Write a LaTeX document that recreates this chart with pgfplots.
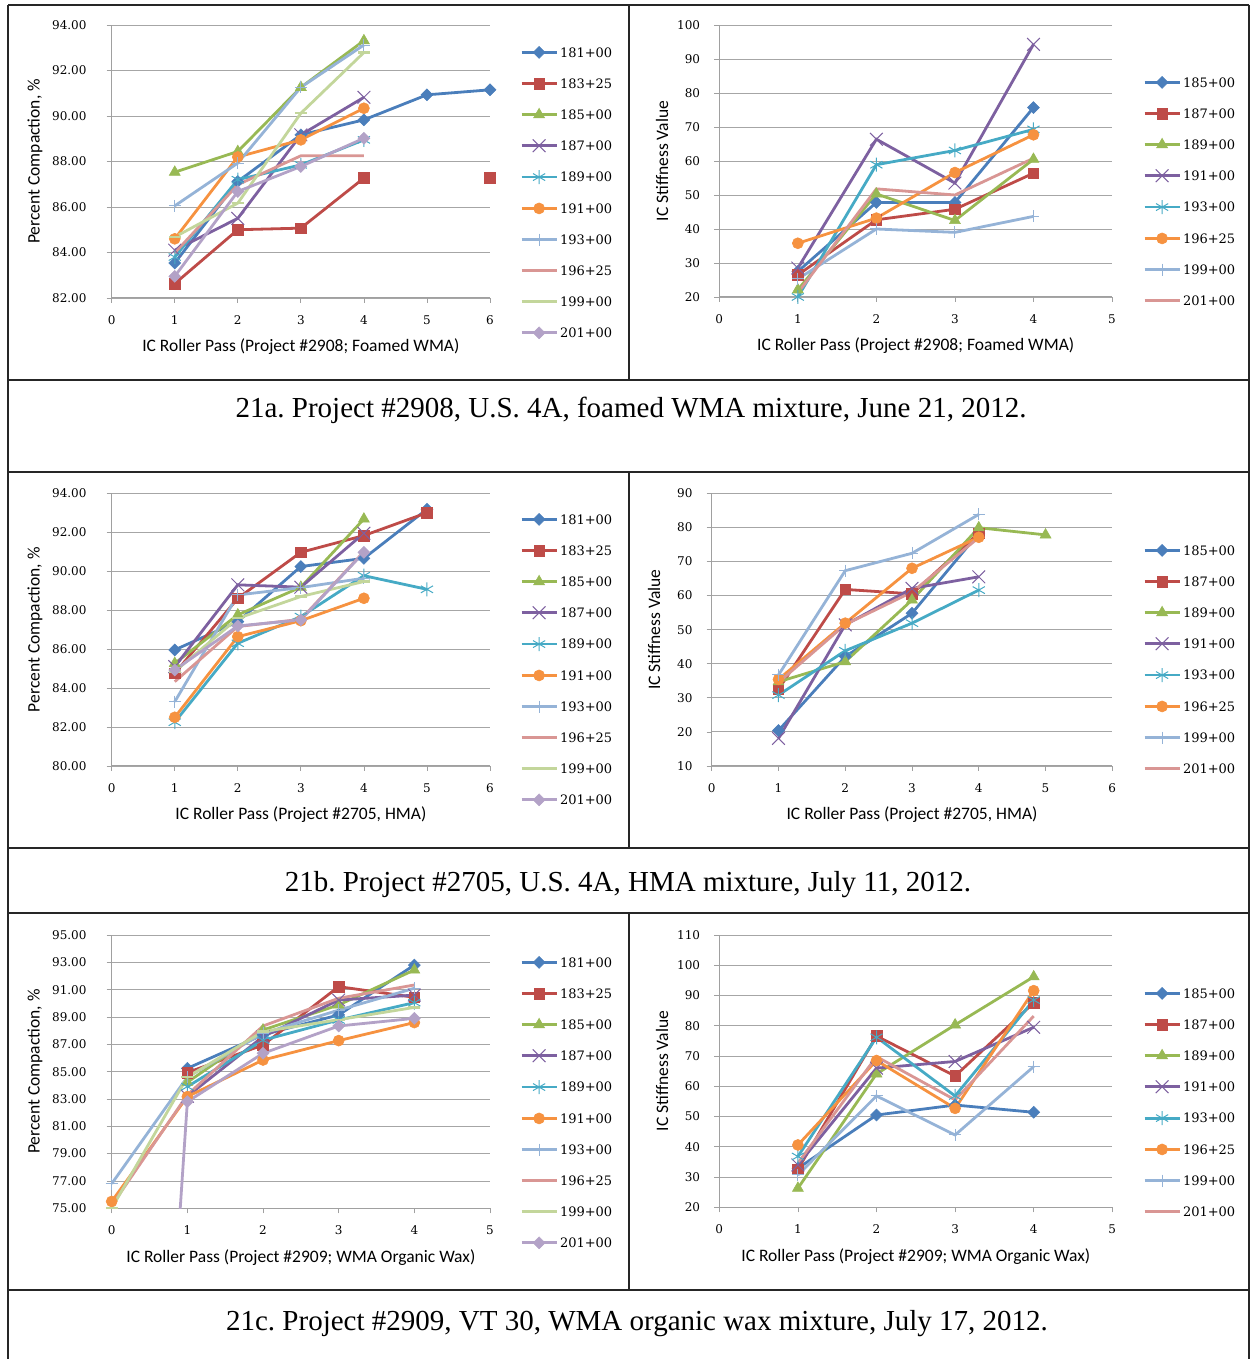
\documentclass[border=0pt]{standalone}
\usepackage{fontspec}
\setmainfont{Liberation Serif}
\newfontfamily\lblfont{Carlito}
\newfontfamily\tickfont{DejaVu Serif}
\usepackage{pgfplots}
\pgfplotsset{compat=1.18}
\frenchspacing

\definecolor{c1}{HTML}{4A7EBB}
\definecolor{c2}{HTML}{BE4B48}
\definecolor{c3}{HTML}{98B954}
\definecolor{c4}{HTML}{7D60A0}
\definecolor{c5}{HTML}{46AAC5}
\definecolor{c6}{HTML}{F69240}
\definecolor{c7}{HTML}{95B3D7}
\definecolor{c8}{HTML}{D99694}
\definecolor{c9}{HTML}{C3D69B}
\definecolor{c10}{HTML}{B3A2C7}
\definecolor{axgray}{HTML}{A0A0A0}
\definecolor{gridgray}{HTML}{A6A6A6}

\pgfplotsset{
  icbase/.style={
    scale only axis,
    axis lines=left,
    axis line style={-, draw=axgray, line width=1pt},
    tick style={draw=axgray, line width=0.8pt},
    tick align=outside,
    major tick length=5pt,
    ymajorgrids,
    grid style={draw=gridgray, line width=0.9pt},
    xmin=0,
    /pgf/number format/assume math mode=true,
    ticklabel style={font=\tickfont\fontsize{12}{12}\selectfont, text=black},
    xticklabel style={anchor=center, yshift=-17pt},
    yticklabel style={anchor=east, inner sep=0pt},
    label style={font=\lblfont\fontsize{17.5}{17.5}\selectfont},
    xlabel style={at={(axis description cs:0.5,0)}, anchor=center, yshift=-49pt},
    ylabel style={anchor=center},
    unbounded coords=jump,
    every axis plot/.append style={line width=2.8pt},
    legend cell align=left,
    legend image code/.code={\draw[mark repeat=2,mark phase=2,##1] plot coordinates {(0pt,0pt)(17.5pt,0pt)(35pt,0pt)};},
    legend style={draw=none, fill=none, at={(1,1)}, anchor=north west,
      inner sep=0pt, row sep=17.6pt,
      font=\tickfont\fontsize{13}{13}\selectfont,
      nodes={inner sep=2pt, text height=9.5pt, text depth=0pt}},
  },
  s1/.style={color=c1, mark=square*, mark size=4.2pt, mark options={solid, rotate=45, line width=0.6pt}},
  s2/.style={color=c2, mark=square*, mark size=5.3pt, mark options={solid, line width=0.6pt}},
  s3/.style={color=c3, mark=triangle*, mark size=6.3pt, mark options={solid, line width=0.6pt}},
  s4/.style={color=c4, mark=x, mark size=9pt, mark options={solid, line width=1pt}},
  s5/.style={color=c5, mark=asterisk, mark size=7pt, mark options={solid, line width=1pt}},
  s6/.style={color=c6, mark=*, mark size=5.5pt, mark options={solid, line width=0.6pt}},
  s7/.style={color=c7, mark=+, mark size=6pt, mark options={solid, line width=1pt}},
  s8/.style={color=c8, mark=none},
  s9/.style={color=c9, mark=-, mark size=6pt, mark options={solid, line width=2.2pt}},
  s10/.style={color=c10, mark=square*, mark size=4.2pt, mark options={solid, rotate=45, line width=0.6pt}},
}

\begin{document}
\begin{tikzpicture}[x=1pt,y=1pt]
\path[use as bounding box] (0,0) rectangle (1250,1359);

% ---------- table rules ----------
\begin{scope}[line width=2pt, draw=black!85]
  \draw (8,1354) -- (1248.5,1354);
  \draw (8,979) -- (1248.5,979);
  \draw (8,887) -- (1248.5,887);
  \draw (8,511) -- (1248.5,511);
  \draw (8,446) -- (1248.5,446);
  \draw (8,69) -- (1248.5,69);
  \draw (8,1354) -- (8,0);
  \draw (1248.5,1354) -- (1248.5,0);
  \draw (629,1354) -- (629,979);
  \draw (629,887) -- (629,511);
  \draw (629,446) -- (629,69);
\end{scope}

% ---------- captions ----------
\begin{scope}[font=\fontsize{29}{29}\selectfont]
  \node[anchor=base] at (631,941) {21a. Project \#2908, U.S. 4A, foamed WMA mixture, June 21, 2012.};
  \node[anchor=base] at (628,467) {21b. Project \#2705, U.S. 4A, HMA mixture, July 11, 2012.};
  \node[anchor=base] at (637,28) {21c. Project \#2909, VT 30, WMA organic wax mixture, July 17, 2012.};
\end{scope}

% ---------- 21a: compaction ----------
\begin{axis}[icbase, at={(111.7pt,1061pt)}, anchor=south west,
  width=378.3pt, height=273pt,
  xmax=6, ymin=82, ymax=94,
  xtick={0,1,...,6},
  ytick={82,84,...,94},
  yticklabels={82.00,84.00,86.00,88.00,90.00,92.00,94.00},
  yticklabel style={xshift=-20pt},
  ylabel={Percent Compaction, \%},
  ylabel style={at={(axis description cs:-0.2027,0.5)}},
  xlabel={IC Roller Pass (Project \#2908; Foamed WMA)},
  legend style={xshift=30pt, yshift=-20.5pt},
]
\addplot[s1] coordinates {(1,83.54)(2,87.12)(3,89.17)(4,89.83)(5,90.93)(6,91.15)};
\addplot[s2] coordinates {(1,82.63)(2,85.00)(3,85.07)(4,87.27)(5,nan)(6,87.27)};
\addplot[s3] coordinates {(1,87.53)(2,88.44)(3,91.26)(4,93.31)};
\addplot[s4] coordinates {(1,84.10)(2,85.50)(3,89.17)(4,90.82)};
\addplot[s5] coordinates {(1,83.80)(2,87.20)(3,87.85)(4,88.95)};
\addplot[s6] coordinates {(1,84.60)(2,88.20)(3,88.95)(4,90.34)};
\addplot[s7] coordinates {(1,86.05)(2,87.93)(3,91.26)(4,93.12)};
\addplot[s8] coordinates {(1,83.98)(2,86.98)(3,88.25)(4,88.25)};
\addplot[s9] coordinates {(1,84.68)(2,86.17)(3,90.12)(4,92.79)};
\addplot[s10] coordinates {(1,82.95)(2,86.68)(3,87.78)(4,89.02)};
\legend{181+00,183+25,185+00,187+00,189+00,191+00,193+00,196+25,199+00,201+00}
\end{axis}

% ---------- 21a: stiffness ----------
\begin{axis}[icbase, at={(719.3pt,1062pt)}, anchor=south west,
  width=392.7pt, height=272pt,
  xmax=5, ymin=20, ymax=100,
  xtick={0,1,...,5},
  ytick={20,30,...,100},
  yticklabels={20,30,40,50,60,70,80,90,100},
  yticklabel style={xshift=-14pt},
  ylabel={IC Stiffness Value},
  ylabel style={at={(axis description cs:-0.1459,0.5)}},
  xlabel={IC Roller Pass (Project \#2908; Foamed WMA)},
  legend style={xshift=31pt, yshift=-50.5pt},
]
\addplot[s1] coordinates {(1,27.5)(2,47.8)(3,47.8)(4,75.7)};
\addplot[s2] coordinates {(1,26.5)(2,42.7)(3,45.8)(4,56.4)};
\addplot[s3] coordinates {(1,22.1)(2,50.3)(3,42.5)(4,60.5)};
\addplot[s4] coordinates {(1,28.5)(2,66.4)(3,53.5)(4,94.3)};
\addplot[s5] coordinates {(1,20.0)(2,58.9)(3,63.1)(4,69.3)};
\addplot[s6] coordinates {(1,35.8)(2,43.2)(3,56.6)(4,67.7)};
\addplot[s7] coordinates {(1,25.3)(2,40.0)(3,39.0)(4,43.7)};
\addplot[s8] coordinates {(1,21.2)(2,51.8)(3,50.0)(4,60.8)};
\legend{185+00,187+00,189+00,191+00,193+00,196+25,199+00,201+00}
\end{axis}

% ---------- 21b: compaction ----------
\begin{axis}[icbase, at={(111.7pt,593pt)}, anchor=south west,
  width=378.3pt, height=272.7pt,
  xmax=6, ymin=80, ymax=94,
  xtick={0,1,...,6},
  ytick={80,82,...,94},
  yticklabels={80.00,82.00,84.00,86.00,88.00,90.00,92.00,94.00},
  yticklabel style={xshift=-20pt},
  ylabel={Percent Compaction, \%},
  ylabel style={at={(axis description cs:-0.2027,0.5)}},
  xlabel={IC Roller Pass (Project \#2705, HMA)},
  legend style={xshift=30pt, yshift=-19.2pt},
]
\addplot[s1] coordinates {(1,85.96)(2,87.41)(3,90.24)(4,90.66)(5,93.18)};
\addplot[s2] coordinates {(1,84.76)(2,88.61)(3,90.97)(4,91.83)(5,93.00)};
\addplot[s3] coordinates {(1,85.27)(2,87.76)(3,89.18)(4,92.68)};
\addplot[s4] coordinates {(1,85.10)(2,89.30)(3,89.18)(4,91.95)};
\addplot[s5] coordinates {(1,82.25)(2,86.30)(3,87.67)(4,89.77)(5,89.07)};
\addplot[s6] coordinates {(1,82.50)(2,86.64)(3,87.46)(4,88.61)};
\addplot[s7] coordinates {(1,83.30)(2,88.78)(3,89.16)(4,89.64)};
\addplot[s8] coordinates {(1,84.33)(2,87.16)(3,87.53)(4,91.00)};
\addplot[s9] coordinates {(1,84.85)(2,87.58)(3,88.70)(4,89.47)};
\addplot[s10] coordinates {(1,84.93)(2,87.19)(3,87.50)(4,90.97)};
\legend{181+00,183+25,185+00,187+00,189+00,191+00,193+00,196+25,199+00,201+00}
\end{axis}

% ---------- 21b: stiffness ----------
\begin{axis}[icbase, at={(711.7pt,593pt)}, anchor=south west,
  width=400.6pt, height=272.7pt,
  xmax=6, ymin=10, ymax=90,
  xtick={0,1,...,6},
  ytick={10,20,...,90},
  yticklabels={10,20,30,40,50,60,70,80,90},
  yticklabel style={xshift=-14pt},
  ylabel={IC Stiffness Value},
  ylabel style={at={(axis description cs:-0.1440,0.5)}},
  xlabel={IC Roller Pass (Project \#2705, HMA)},
  legend style={xshift=30.7pt, yshift=-50.2pt},
]
\addplot[s1] coordinates {(1,20.4)(2,42.1)(3,54.8)(4,78.3)};
\addplot[s2] coordinates {(1,32.5)(2,61.8)(3,60.5)(4,78.3)};
\addplot[s3] coordinates {(1,34.7)(2,40.6)(3,58.7)(4,79.9)(5,77.8)};
\addplot[s4] coordinates {(1,18.1)(2,51.4)(3,62.1)(4,65.5)};
\addplot[s5] coordinates {(1,30.8)(2,43.8)(3,51.9)(4,61.6)};
\addplot[s6] coordinates {(1,35.4)(2,51.9)(3,68.0)(4,77.1)};
\addplot[s7] coordinates {(1,36.7)(2,67.3)(3,72.4)(4,83.8)};
\addplot[s8] coordinates {(1,34.5)(2,51.5)(3,61.0)(4,77.0)};
\legend{185+00,187+00,189+00,191+00,193+00,196+25,199+00,201+00}
\end{axis}

% ---------- 21c: compaction ----------
\begin{axis}[icbase, at={(111.7pt,150.7pt)}, anchor=south west,
  width=378.3pt, height=273.3pt,
  xmax=5, ymin=75, ymax=95,
  xtick={0,1,...,5},
  ytick={75,77,...,95},
  yticklabels={75.00,77.00,79.00,81.00,83.00,85.00,87.00,89.00,91.00,93.00,95.00},
  yticklabel style={xshift=-20pt},
  ylabel={Percent Compaction, \%},
  ylabel style={at={(axis description cs:-0.2027,0.5)}},
  xlabel={IC Roller Pass (Project \#2909; WMA Organic Wax)},
  legend style={xshift=30pt, yshift=-20.5pt},
]
\addplot[s1] coordinates {(1,85.24)(2,87.70)(3,89.15)(4,92.80)};
\addplot[s2] coordinates {(1,84.93)(2,86.95)(3,91.22)(4,90.44)};
\addplot[s3] coordinates {(1,84.22)(2,88.05)(3,89.88)(4,92.44)};
\addplot[s4] coordinates {(1,83.20)(2,87.56)(3,90.24)(4,90.60)};
\addplot[s5] coordinates {(1,83.90)(2,87.30)(3,88.78)(4,90.05)};
\addplot[s6] coordinates {(0,75.50)(1,83.17)(2,85.85)(3,87.27)(4,88.59)};
\addplot[s7] coordinates {(0,76.80)(1,84.60)(2,87.80)(3,89.50)(4,91.10)};
\addplot[s8] coordinates {(0,75.20)(1,83.30)(2,88.34)(3,90.37)(4,91.34)};
\addplot[s9] coordinates {(0,75.00)(1,84.60)(2,87.93)(3,88.80)(4,89.70)};
\addplot[s10] coordinates {(0,0)(1,82.80)(2,86.34)(3,88.34)(4,88.90)};
\legend{181+00,183+25,185+00,187+00,189+00,191+00,193+00,196+25,199+00,201+00}
\end{axis}

% ---------- 21c: stiffness ----------
\begin{axis}[icbase, at={(719.3pt,151.7pt)}, anchor=south west,
  width=393pt, height=272.3pt,
  xmax=5, ymin=20, ymax=110,
  xtick={0,1,...,5},
  ytick={20,30,...,110},
  yticklabels={20,30,40,50,60,70,80,90,100,110},
  yticklabel style={xshift=-14pt},
  ylabel={IC Stiffness Value},
  ylabel style={at={(axis description cs:-0.1458,0.5)}},
  xlabel={IC Roller Pass (Project \#2909; WMA Organic Wax)},
  legend style={xshift=30.7pt, yshift=-51.5pt},
]
\addplot[s1] coordinates {(1,32.9)(2,50.5)(3,53.8)(4,51.4)};
\addplot[s2] coordinates {(1,32.6)(2,76.6)(3,63.4)(4,87.6)};
\addplot[s3] coordinates {(1,26.3)(2,64.1)(3,80.3)(4,96.2)};
\addplot[s4] coordinates {(1,34.0)(2,66.0)(3,68.2)(4,79.5)};
\addplot[s5] coordinates {(1,36.8)(2,76.2)(3,56.8)(4,88.5)};
\addplot[s6] coordinates {(1,40.6)(2,68.5)(3,52.7)(4,91.6)};
\addplot[s7] coordinates {(1,30.7)(2,56.8)(3,43.9)(4,66.5)};
\addplot[s8] coordinates {(1,34.6)(2,69.8)(3,55.5)(4,83.2)};
\legend{185+00,187+00,189+00,191+00,193+00,196+25,199+00,201+00}
\end{axis}
\end{tikzpicture}
\end{document}
